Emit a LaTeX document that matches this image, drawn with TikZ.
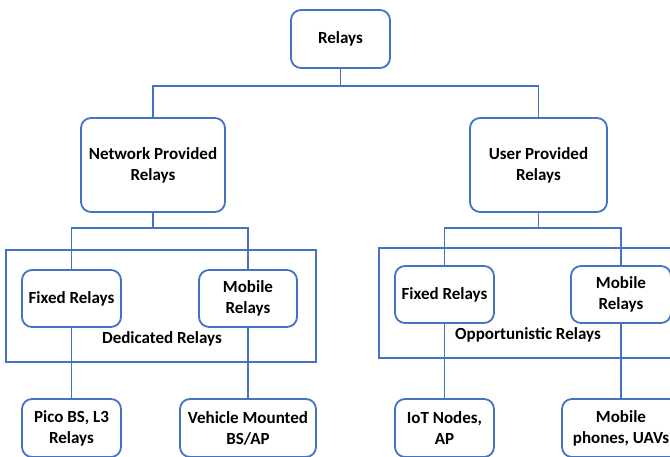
\documentclass[tikz,border=0pt]{standalone}
\usepackage{fontspec}
\setmainfont{Carlito}
\definecolor{relayblue}{RGB}{68,114,196}
\tikzset{
  relaybox/.style={draw=relayblue, line width=1.8pt, rounded corners=10pt, fill=white,
    align=center, inner sep=2pt, font=\fontsize{17}{21}\selectfont\bfseries},
  grouplabel/.style={inner sep=1pt, font=\fontsize{17}{21}\selectfont\bfseries},
  link/.style={draw=relayblue, line width=1.8pt}
}
\begin{document}
\begin{tikzpicture}[x=1pt,y=-1pt]
	\useasboundingbox (0,0) rectangle (670,456);
	\clip (0,0) rectangle (670,456);
	% top levels
	\node[relaybox, minimum width=99pt, minimum height=58pt] (relays) at (340.5,39) {Relays};
	\node[relaybox, minimum width=144pt, minimum height=94pt] (netrel) at (153,165) {Network Provided\\Relays};
	\node[relaybox, minimum width=137pt, minimum height=94pt] (userrel) at (538.5,165) {User Provided\\Relays};
	% group frames
	\draw[link] (6,250) rectangle (316,362);
	\draw[link] (379,248) rectangle (680,358);
	\node[grouplabel] (dedlbl) at (162,339) {Dedicated Relays};
	\node[grouplabel] (opplbl) at (528,335) {Opportunistic Relays};
	% relay kinds
	\node[relaybox, minimum width=99pt, minimum height=57pt] (fixnet) at (71.5,298.5) {Fixed Relays};
	\node[relaybox, minimum width=98pt, minimum height=57pt] (mobnet) at (248,298.5) {Mobile\\Relays};
	\node[relaybox, minimum width=99pt, minimum height=57pt] (fixusr) at (444.5,294.5) {Fixed Relays};
	\node[relaybox, minimum width=100pt, minimum height=57pt] (mobusr) at (621,294.5) {Mobile\\Relays};
	% examples
	\node[relaybox, minimum width=99pt, minimum height=58pt] (pico) at (71.5,428) {Pico BS, L3\\Relays};
	\node[relaybox, minimum width=136pt, minimum height=58pt] (vehicle) at (248,428) {Vehicle Mounted\\BS/AP};
	\node[relaybox, minimum width=99pt, minimum height=58pt] (iot) at (444.5,428) {IoT Nodes,\\AP};
	\node[relaybox, minimum width=118pt, minimum height=58pt] (phones) at (621,428) {Mobile\\phones, UAVs};
	% connectors
	\coordinate (topfork) at (340.5,86);
	\coordinate (netfork) at (153,228);
	\coordinate (usrfork) at (538.5,228);
	\draw[link] (relays.south) -- (topfork) -| (netrel.north);
	\draw[link] (topfork) -| (userrel.north);
	\draw[link] (netrel.south) -- (netfork) -| (fixnet.north);
	\draw[link] (netfork) -| (mobnet.north);
	\draw[link] (userrel.south) -- (usrfork) -| (fixusr.north);
	\draw[link] (usrfork) -| (mobusr.north);
	\draw[link] (fixnet) -- (pico);
	\draw[link] (mobnet) -- (vehicle);
	\draw[link] (fixusr) -- (iot);
	\draw[link] (mobusr) -- (phones);
\end{tikzpicture}
\end{document}
